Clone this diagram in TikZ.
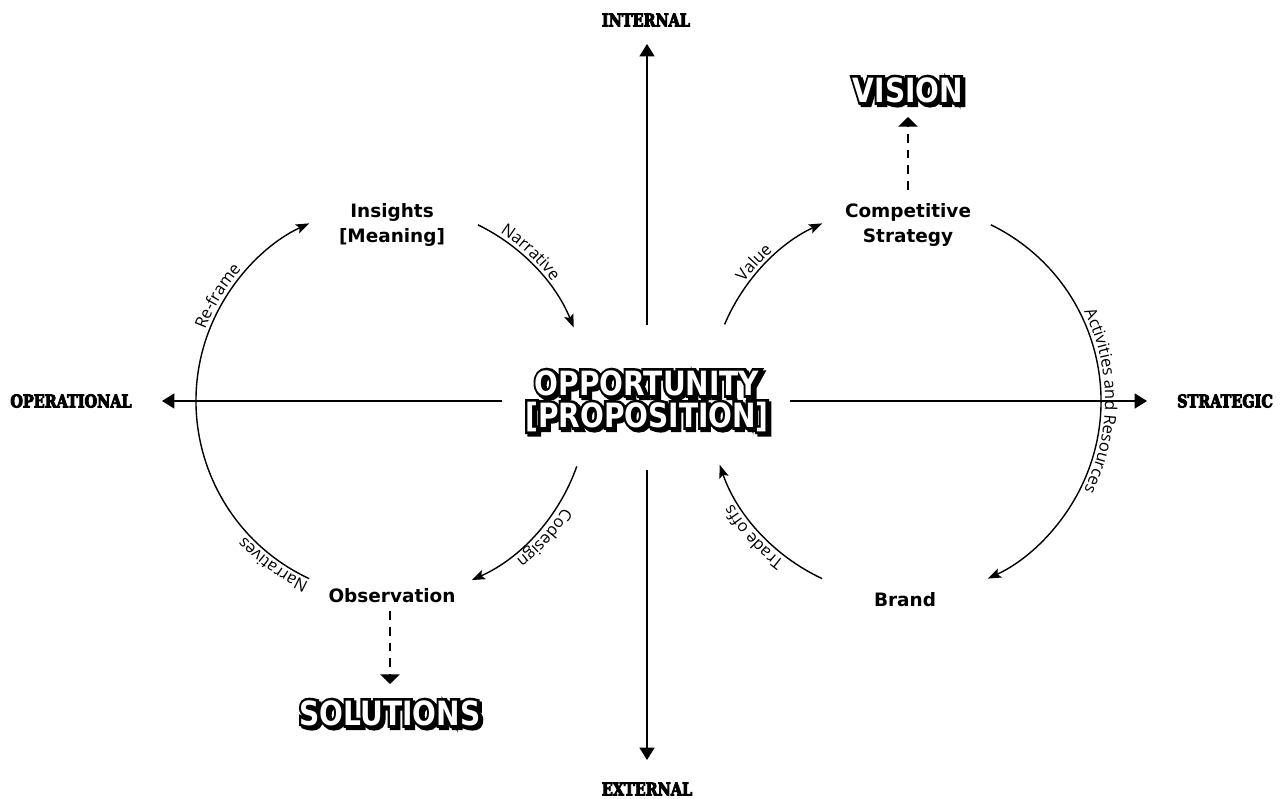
\documentclass[tikz,border=0pt]{standalone}
\usepackage{fontspec}
\setmainfont{DejaVu Sans}
\newfontfamily\labfont{DejaVu Sans}
\newfontfamily\arcfont{Open Sans}
\newfontfamily\axisfont{DejaVu Serif}[FakeStretch=0.82, BoldFeatures={FakeBold=5}]
\newfontfamily\titlefont{DejaVu Sans}[FakeStretch=0.84]
\newfontfamily\titleoutline{DejaVu Sans}[FakeStretch=0.84, BoldFeatures={FakeBold=16}]
\usetikzlibrary{arrows.meta,decorations.text,calc}
\newcommand\arcsize{\arcfont\fontsize{9.4}{10}\selectfont}
\tikzset{
  axisline/.style={line width=0.8pt, -{Triangle[length=7pt,width=8.5pt]}},
  arcline/.style={line width=0.8pt, -{Stealth[length=7.5pt,width=5.5pt,inset=1.5pt]}},
  dashline/.style={line width=0.8pt, dash pattern=on 5pt off 4pt, -{Triangle[length=5.5pt,width=11pt]}},
  lab/.style={font=\labfont\bfseries\fontsize{10.5}{14.2}\selectfont, align=center, inner sep=0pt},
  axislab/.style={font=\axisfont\bfseries\fontsize{10}{11}\selectfont, inner sep=0pt},
  titlenode/.style={font=\titlefont\bfseries\fontsize{19}{18.2}\selectfont, align=center, inner sep=0pt},
  titleback/.style={font=\titleoutline\bfseries\fontsize{19}{18.2}\selectfont, align=center, inner sep=0pt, text=black},
  arclab/.style={decorate, decoration={text along path, text align=center, text={#1}}},
}
\newcommand\outlinetitle[3]{%
  \node[titleback,xshift=1.3pt,yshift=-1.3pt] at (#2) {#3};
  \node[titleback] at (#2) {#3};
  \node[titlenode,text=white] (#1) at (#2) {#3};
}
\begin{document}
\begin{tikzpicture}[x=0.02cm,y=0.02cm]
\useasboundingbox (0,0) rectangle (1283,798);
\fill[white] (0,0) rectangle (1283,798);

% centres of the two loops
\coordinate (L) at (392,397);
\coordinate (R) at (905,397);

% axis labels
\node[axislab] (internal) at (646,778) {INTERNAL};
\node[axislab] (external) at (647,9) {EXTERNAL};
\node[axislab] (operational) at (71,397) {OPERATIONAL};
\node[axislab] (strategic) at (1225,397) {STRATEGIC};

% axes
\coordinate (vtop0) at (647,473); \coordinate (vtop1) at (647,754);
\coordinate (vbot0) at (647,328); \coordinate (vbot1) at (647,38);
\coordinate (hl0) at (502,397);   \coordinate (hl1) at (162,397);
\coordinate (hr0) at (790,397);   \coordinate (hr1) at (1147,397);
\draw[axisline] (vtop0) -- (vtop1);
\draw[axisline] (vbot0) -- (vbot1);
\draw[axisline] (hl0) -- (hl1);
\draw[axisline] (hr0) -- (hr1);

% node labels
\node[lab] (insights) at (392,573) {Insights\\{[}Meaning{]}};
\node[lab] (comp) at (908,573) {Competitive\\Strategy};
\node[lab] (obs) at (392,202) {Observation};
\node[lab] (brand) at (905,198) {Brand};

% titles
\outlinetitle{opp}{647,397}{OPPORTUNITY\\{[}PROPOSITION{]}}
\outlinetitle{vision}{908,708}{VISION}
\outlinetitle{solutions}{390,85}{SOLUTIONS}

% dashed arrows
\coordinate (dv0) at (908,608); \coordinate (dv1) at (908,681);
\coordinate (ds0) at (390,187); \coordinate (ds1) at (390,114);
\draw[dashline] (dv0) -- (dv1);
\draw[dashline] (ds0) -- (ds1);

% left loop
\draw[arcline] ($(L)+(245:196)$) arc[start angle=245,end angle=115,radius=196];
\draw[arcline] ($(L)+(64:196)$) arc[start angle=64,end angle=22,radius=196];
\draw[arcline] ($(L)+(-19.5:196)$) arc[start angle=-19.5,end angle=-66,radius=196];
% right loop
\draw[arcline] ($(R)+(157:196)$) arc[start angle=157,end angle=115,radius=196];
\draw[arcline] ($(R)+(64:196)$) arc[start angle=64,end angle=-65,radius=196];
\draw[arcline] ($(R)+(245:196)$) arc[start angle=245,end angle=199,radius=196];

% arc labels
\path[arclab={|\arcsize|Re-frame}] ($(L)+(189:200)$) arc[start angle=189,end angle=109,radius=200];
\path[arclab={|\arcsize|Narrative}] ($(L)+(87:200)$) arc[start angle=87,end angle=7,radius=200];
\path[arclab={|\arcsize|Codesign}] ($(L)+(-2:202)$) arc[start angle=-2,end angle=-82,radius=202];
\path[arclab={|\arcsize|Narratives}] ($(L)+(274:200)$) arc[start angle=274,end angle=194,radius=200];
\path[arclab={|\arcsize|Value}] ($(R)+(177.5:200)$) arc[start angle=177.5,end angle=97.5,radius=200];
\path[arclab={|\arcsize|Activities and Resources}] ($(R)+(40:200)$) arc[start angle=40,end angle=-40,radius=200];
\path[arclab={|\arcsize|Trade offs}] ($(R)+(262:201)$) arc[start angle=262,end angle=182,radius=201];
\end{tikzpicture}
\end{document}
